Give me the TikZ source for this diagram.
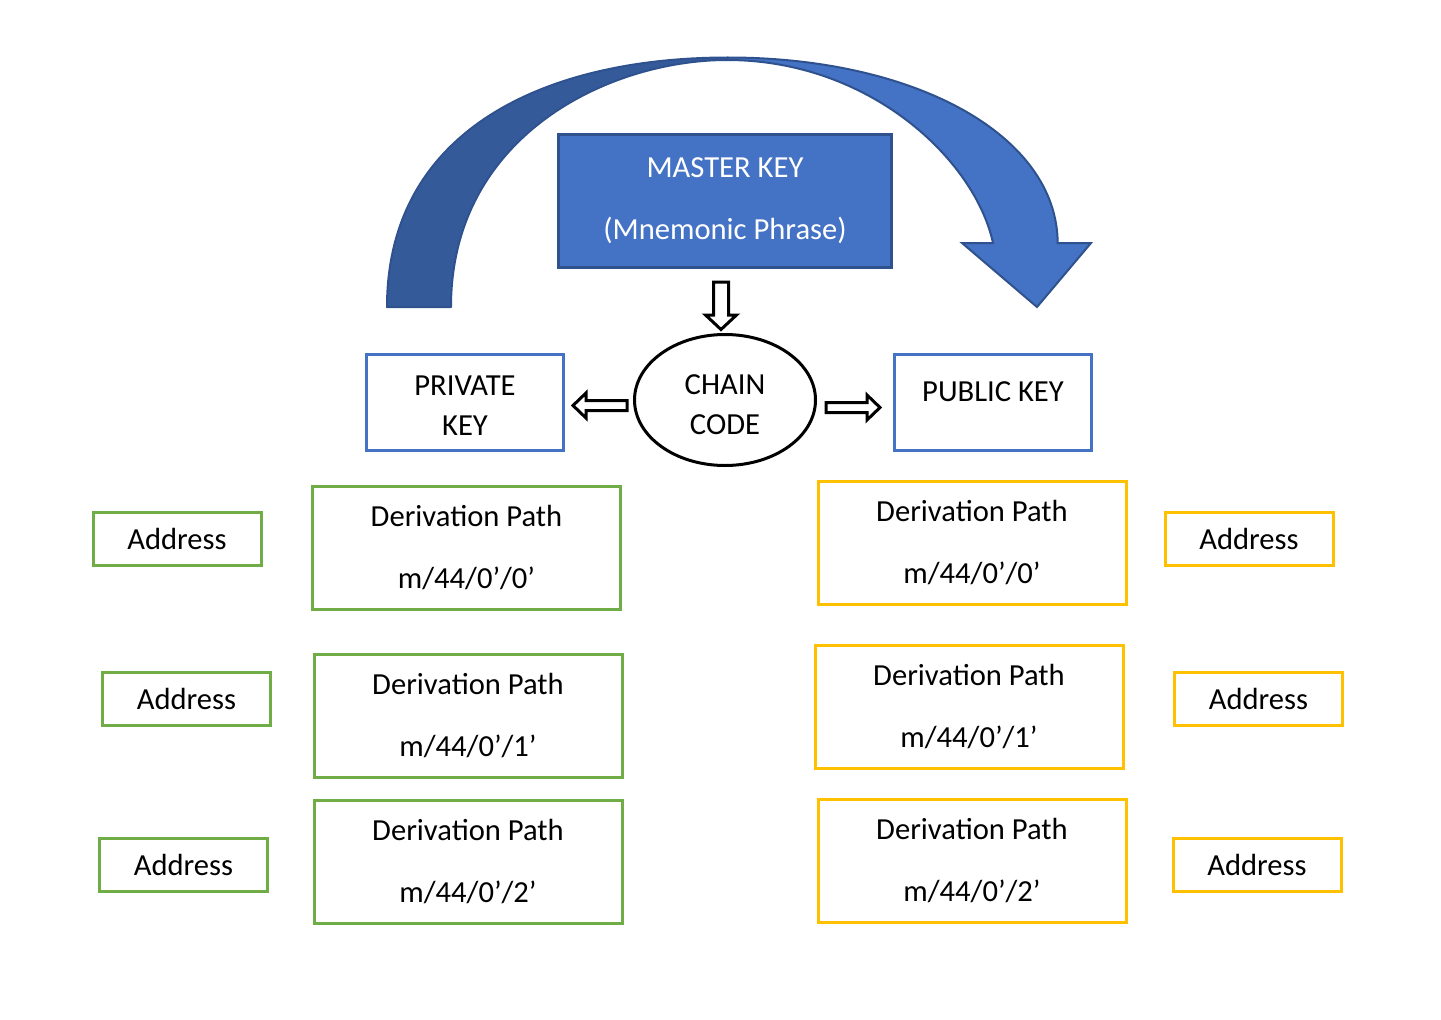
\documentclass[tikz,border=0pt]{standalone}
\usepackage{fontspec}
\setmainfont{Carlito}
\usetikzlibrary{shapes.geometric}
\definecolor{kblue}{HTML}{4472C4}
\definecolor{kdark}{HTML}{2F528F}
\definecolor{kshade}{HTML}{355A9A}
\definecolor{kgreen}{HTML}{70AD47}
\definecolor{kgold}{HTML}{FFC000}
\begin{document}
\begin{tikzpicture}[x=1pt,y=1pt,
  boxbase/.style={draw, rectangle, line width=3pt, inner sep=0pt, align=center, fill=white},
  twoline/.style={font=\fontsize{30.6}{62}\selectfont},
  keyline/.style={font=\fontsize{30.6}{40}\selectfont},
  pathbox/.style={boxbase, twoline, minimum width=308pt, minimum height=123pt},
  addrbox/.style={boxbase, font=\fontsize{30.6}{36}\selectfont, minimum width=168pt, minimum height=53pt},
  keybox/.style={boxbase, keyline, draw=kblue, minimum width=197pt, minimum height=96pt},
  hollowarrow/.style={draw=black, fill=white, line width=3pt, line join=miter},
  bandshade/.style={fill=kshade, draw=kdark, line width=2pt, line join=round},
  bandfront/.style={fill=kblue, draw=kdark, line width=2pt, line join=miter}
]
\useasboundingbox (0,0) rectangle (1441,-1020);

% curved arrow (back face)
\path[bandshade] (387,-307) .. controls (387,-130) and (545,-57.5) .. (728,-57.5)
  -- (727,-60) .. controls (610,-60) and (451,-135) .. (451,-307) -- cycle;
% curved arrow (front face with head)
\path[bandfront] (728,-57.5) .. controls (915,-57.5) and (1057,-135) .. (1057.7,-243)
  -- (1091,-243) -- (1037,-307) -- (962,-243) -- (993,-243)
  .. controls (975,-160) and (870,-60) .. (727,-60) -- cycle;

% master key
\node[boxbase, twoline, fill=kblue, draw=kdark, text=white,
      minimum width=333pt, minimum height=133pt] (master) at (725,-201)
  {MASTER KEY\\(Mnemonic Phrase)};

% chain code
\node[ellipse, draw, line width=3pt, inner sep=0pt, align=center, keyline,
      text height=69pt, minimum width=181pt, minimum height=131pt] (chain) at (725,-400)
  {CHAIN\\CODE};

% private / public key
\node[keybox, text height=66pt] (priv) at (465,-402.5) {PRIVATE\\KEY};
\node[keybox, text depth=20pt] (pub) at (993,-402) {PUBLIC KEY};

% hollow block arrows
\draw[hollowarrow] (713.5,-282) -- (728.5,-282) -- (728.5,-315) -- (736.5,-315)
  -- (721,-329.5) -- (705.5,-315) -- (713.5,-315) -- cycle;
\draw[hollowarrow] (627,-400.5) -- (586,-400.5) -- (586,-393) -- (573,-405.5)
  -- (586,-418) -- (586,-410.5) -- (627,-410.5) -- cycle;
\draw[hollowarrow] (826,-402.5) -- (867,-402.5) -- (867,-395) -- (880,-407.5)
  -- (867,-420) -- (867,-412.5) -- (826,-412.5) -- cycle;

% private side (green)
\node[pathbox, draw=kgreen] (pl1) at (466.5,-548) {Derivation Path\\m/44/0’/0’};
\node[pathbox, draw=kgreen] (pl2) at (468,-716) {Derivation Path\\m/44/0’/1’};
\node[pathbox, draw=kgreen] (pl3) at (468,-861.5) {Derivation Path\\m/44/0’/2’};
\node[addrbox, draw=kgreen] (al1) at (177,-538.5) {Address};
\node[addrbox, draw=kgreen] (al2) at (186.5,-698.5) {Address};
\node[addrbox, draw=kgreen] (al3) at (183.5,-864.5) {Address};

% public side (gold)
\node[pathbox, draw=kgold] (pr1) at (972,-543) {Derivation Path\\m/44/0’/0’};
\node[pathbox, draw=kgold] (pr2) at (969,-706.5) {Derivation Path\\m/44/0’/1’};
\node[pathbox, draw=kgold] (pr3) at (972,-860.5) {Derivation Path\\m/44/0’/2’};
\node[addrbox, draw=kgold] (ar1) at (1249,-538.5) {Address};
\node[addrbox, draw=kgold] (ar2) at (1258.5,-698.5) {Address};
\node[addrbox, draw=kgold] (ar3) at (1257,-864.5) {Address};
\end{tikzpicture}
\end{document}
